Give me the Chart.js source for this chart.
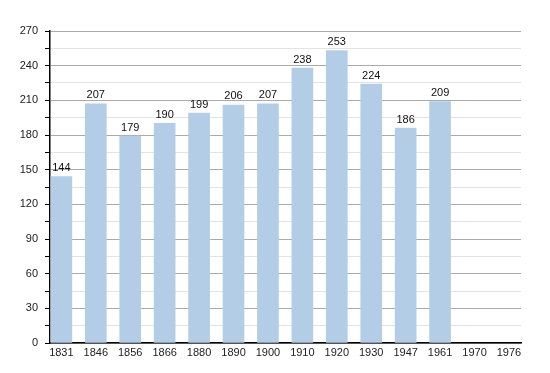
<!DOCTYPE html>
<html><head><meta charset="utf-8">
<script src="https://cdn.jsdelivr.net/npm/chart.js@4"></script>
<style>html,body{margin:0;padding:0;background:#fff}#w{width:550px;height:373px}</style>
</head><body><div id="w"><canvas id="c"></canvas></div>
<script>
const years = ['1831','1846','1856','1866','1880','1890','1900','1910','1920','1930','1947','1961','1970','1976'];
const population = [144,207,179,190,199,206,207,238,253,224,186,209,null,null];
const yTickValues = [0,30,60,90,120,150,180,210,240,270];

const FONT = 'Liberation Sans, Arial, sans-serif';
const labelPlugin = {
  id: 'labels',
  afterDatasetsDraw(chart) {
    const ctx = chart.ctx;
    const meta = chart.getDatasetMeta(0);
    ctx.save();
    ctx.font = '11px ' + FONT;
    ctx.fillStyle = '#111';
    ctx.textAlign = 'center';
    ctx.textBaseline = 'bottom';
    meta.data.forEach((el, i) => {
      const v = population[i];
      if (v == null) return;
      ctx.fillText(String(v), el.x, el.y - 3);
    });
    ctx.restore();
  }
};

new Chart(document.getElementById('c'), {
  type: 'bar',
  data: {
    datasets: [{
      data: population.map((v, i) => ({x: i, y: v})),
      backgroundColor: '#b3cde7',
      barThickness: 21
    }]
  },
  options: {
    responsive: true, maintainAspectRatio: false, animation: false,
    layout: {padding: {top: 31, right: 29, left: 0, bottom: 0}},
    plugins: {legend: {display: false}, tooltip: {enabled: false}},
    scales: {
      x: {
        type: 'linear', min: -0.33, max: 13.35, offset: false,
        afterBuildTicks(s) { s.ticks = years.map((y, i) => ({value: i})); },
        afterFit(s) { s.height = 30; },
        grid: {display: false, drawTicks: false},
        border: {display: true, color: '#000', width: 1.5},
        ticks: {padding: 3, color: '#222', font: {family: FONT, size: 11}, maxRotation: 0, autoSkip: false,
          callback: (v) => years[v] ?? ''}
      },
      y: {
        min: 0, max: 270,
        afterBuildTicks(s) {
          const t = [];
          for (let v = 0; v <= 270; v += 15) t.push({value: v});
          s.ticks = t;
        },
        afterFit(s) { s.width = 50; },
        grid: {
          color: (c) => (c.tick && yTickValues.includes(c.tick.value)) ? '#aaaaaa' : '#e3e3e3',
          tickColor: '#000', tickLength: 5, lineWidth: 1
        },
        border: {display: true, color: '#000', width: 1.5},
        ticks: {padding: 7, color: '#222', font: {family: FONT, size: 11}, autoSkip: false,
          callback: (v) => yTickValues.includes(v) ? String(v) : ''}
      }
    }
  },
  plugins: [labelPlugin]
});
</script></body></html>
